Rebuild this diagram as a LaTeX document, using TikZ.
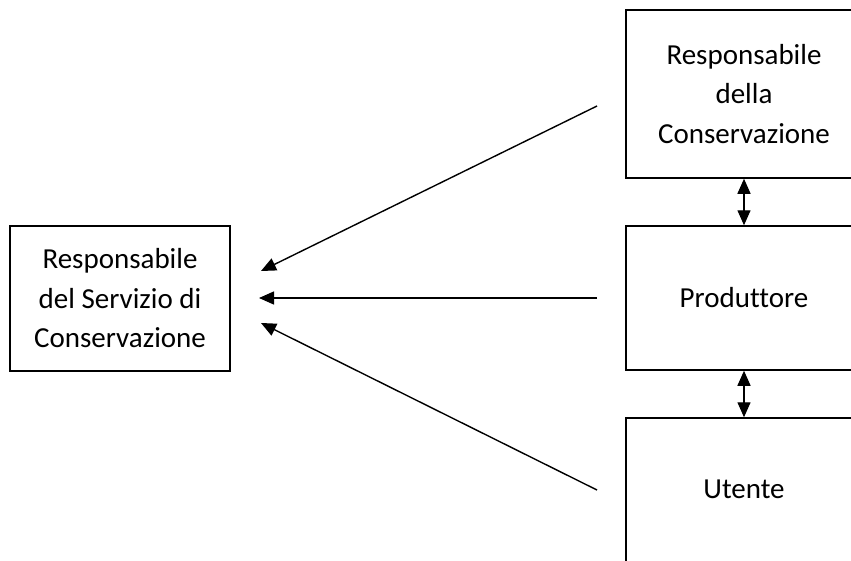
\documentclass[tikz,border=0pt]{standalone}
\usepackage{fontspec}
\setmainfont[Ligatures=NoCommon]{Carlito}
\usetikzlibrary{arrows.meta}
\begin{document}
\begin{tikzpicture}[x=1pt,y=-1pt,
  box/.style={draw, line width=1.5pt, inner sep=0pt, align=center,
    font=\fontsize{29}{39.5}\selectfont},
  conn/.style={line width=1.4pt, -{Triangle[length=15pt,width=13pt]}},
  dconn/.style={line width=1.4pt, {Triangle[length=15pt,width=13pt]}-{Triangle[length=15pt,width=13pt]}}]
\useasboundingbox (0,0) rectangle (851,560);
\clip (0,0) rectangle (851,560);
\fill[white] (0,0) rectangle (851,560);
\node[box, minimum width=220pt, minimum height=145pt] (rsc) at (120,298.5)
  {Responsabile\\del Servizio di\\Conservazione};
\node[box, minimum width=236pt, minimum height=168pt] (rc) at (744,94)
  {Responsabile\\della\\Conservazione};
\node[box, minimum width=236pt, minimum height=144pt] (prod) at (744,298)
  {Produttore};
\node[box, minimum width=236pt, minimum height=160pt] (ut) at (744,498)
  {};
\node[font=\fontsize{29}{39.5}\selectfont, inner sep=0pt] (utl) at (744,489) {Utente};
\coordinate (s1) at (597,106);
\coordinate (s2) at (597,298);
\coordinate (s3) at (597,490);
\coordinate (e1) at (261,271);
\coordinate (e2) at (259,298);
\coordinate (e3) at (261,323);
\draw[conn] (s1) -- (e1);
\draw[conn] (s2) -- (e2);
\draw[conn] (s3) -- (e3);
\draw[dconn] (rc.south) -- (prod.north);
\draw[dconn] (prod.south) -- (ut.north);
\end{tikzpicture}
\end{document}
